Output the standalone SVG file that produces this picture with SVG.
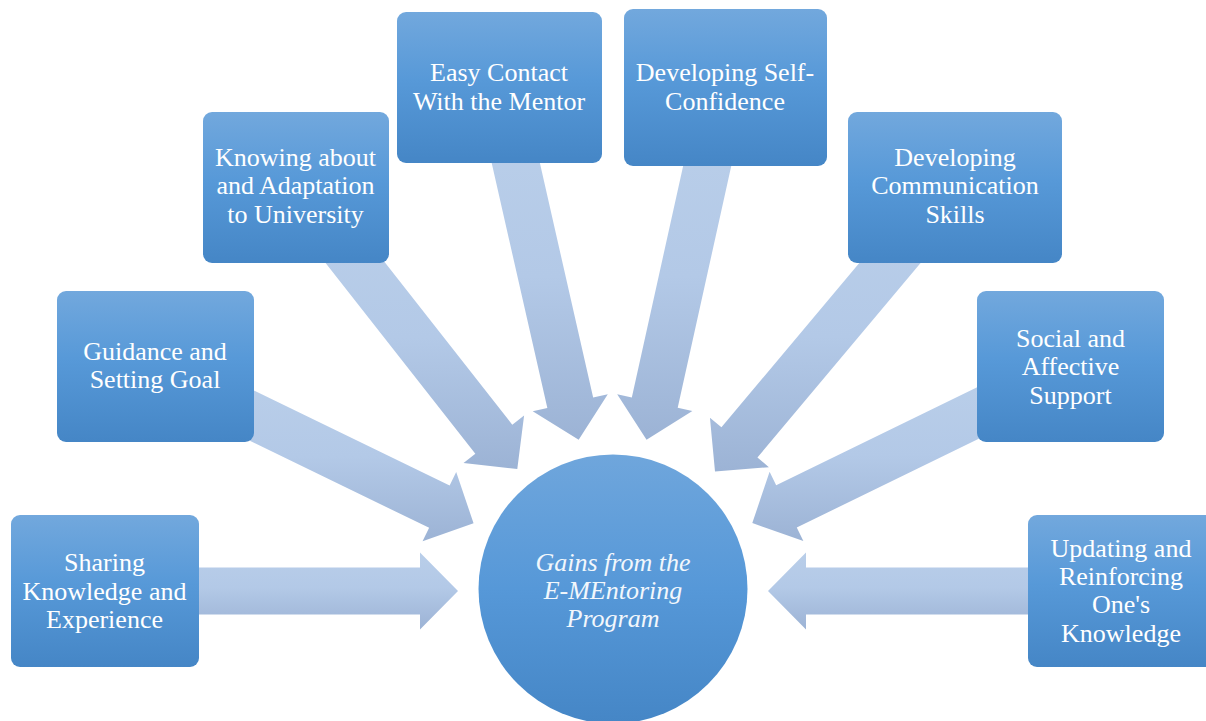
<svg xmlns="http://www.w3.org/2000/svg" width="1206" height="721" viewBox="0 0 1206 721">
<defs>
<linearGradient id="boxGrad" x1="0" y1="0" x2="0" y2="1">
<stop offset="0" stop-color="#72a8dd"/>
<stop offset="0.45" stop-color="#5799d8"/>
<stop offset="1" stop-color="#4586c6"/>
</linearGradient>
<linearGradient id="circGrad" x1="0" y1="0" x2="0" y2="1">
<stop offset="0" stop-color="#6fa6dc"/>
<stop offset="0.5" stop-color="#5698d8"/>
<stop offset="1" stop-color="#4586c6"/>
</linearGradient>
<linearGradient id="arrowGrad" x1="0" y1="0" x2="0" y2="1">
<stop offset="0" stop-color="#b9cee9"/>
<stop offset="0.45" stop-color="#b3c9e7"/>
<stop offset="1" stop-color="#9cb3d5"/>
</linearGradient>
<style>
.box{fill:url(#boxGrad);}
.arrow{fill:url(#arrowGrad);}
.lbl{font-family:"Liberation Serif","Times New Roman",serif;font-size:26px;fill:#ffffff;text-anchor:middle;}
.center{font-family:"Liberation Serif","Times New Roman",serif;font-style:italic;font-size:26px;fill:#f2f7fc;text-anchor:middle;}
</style>
</defs>
<rect width="1206" height="721" fill="#ffffff"/>

<g id="connectors">
<polygon class="arrow" points="190,567.5 420,567.5 420,552.5 458,591 420,629.5 420,614.5 190,614.5"/>
<polygon class="arrow" points="245.43,386.40 449.64,485.56 456.20,472.07 473.56,523.30 422.56,541.33 429.12,527.84 224.91,428.68"/>
<polygon class="arrow" points="359.78,230.43 512.30,424.70 524.10,415.44 517.29,469.09 463.54,462.98 475.34,453.72 322.82,259.45"/>
<polygon class="arrow" points="535.13,142.12 593.16,397.60 607.79,394.28 578.67,439.86 532.71,411.34 547.34,408.02 489.31,152.54"/>
<polygon class="arrow" points="734.40,151.87 677.71,407.66 692.36,410.90 646.54,439.67 617.18,394.24 631.83,397.48 688.52,141.69"/>
<polygon class="arrow" points="925.84,256.81 757.43,457.50 768.92,467.14 715,471.5 709.94,417.64 721.43,427.28 889.84,226.59"/>
<polygon class="arrow" points="1000.8,427.99 796.77,527.51 803.35,540.99 752.31,523.05 769.59,471.79 776.17,485.27 980.2,385.75"/>
<polygon class="arrow" points="1036,567.5 806,567.5 806,552.5 768,591 806,629.5 806,614.5 1036,614.5"/>
</g>

<g id="node-center">
<circle cx="613" cy="589" r="134.5" fill="url(#circGrad)"/>
<text class="center" x="613" y="570.5">Gains from the</text>
<text class="center" x="613" y="599">E-MEntoring</text>
<text class="center" x="613" y="627">Program</text>
</g>

<g id="node-sharing">
<rect class="box" x="11" y="515" width="188" height="152" rx="9"/>
<text class="lbl" x="104.5" y="571">Sharing</text>
<text class="lbl" x="104.5" y="599.5">Knowledge and</text>
<text class="lbl" x="104.5" y="628">Experience</text>
</g>

<g id="node-guidance">
<rect class="box" x="57" y="291" width="197" height="151" rx="9"/>
<text class="lbl" x="155" y="360">Guidance and</text>
<text class="lbl" x="155" y="388">Setting Goal</text>
</g>

<g id="node-knowing">
<rect class="box" x="203" y="112" width="186" height="151" rx="9"/>
<text class="lbl" x="295.5" y="166">Knowing about</text>
<text class="lbl" x="295.5" y="194.3">and Adaptation</text>
<text class="lbl" x="295.5" y="222.5">to University</text>
</g>

<g id="node-contact">
<rect class="box" x="397" y="12" width="205" height="151" rx="9"/>
<text class="lbl" x="499" y="81">Easy Contact</text>
<text class="lbl" x="499" y="110">With the Mentor</text>
</g>

<g id="node-confidence">
<rect class="box" x="624" y="9" width="203" height="157" rx="9"/>
<text class="lbl" x="725" y="81">Developing Self-</text>
<text class="lbl" x="725" y="110">Confidence</text>
</g>

<g id="node-communication">
<rect class="box" x="848" y="112" width="214" height="151" rx="9"/>
<text class="lbl" x="955" y="166">Developing</text>
<text class="lbl" x="955" y="194.3">Communication</text>
<text class="lbl" x="955" y="222.5">Skills</text>
</g>

<g id="node-social">
<rect class="box" x="977" y="291" width="187" height="151" rx="9"/>
<text class="lbl" x="1070.5" y="347">Social and</text>
<text class="lbl" x="1070.5" y="375.3">Affective</text>
<text class="lbl" x="1070.5" y="403.5">Support</text>
</g>

<g id="node-updating">
<rect class="box" x="1028" y="515" width="188" height="152" rx="9"/>
<text class="lbl" x="1121" y="557">Updating and</text>
<text class="lbl" x="1121" y="585.2">Reinforcing</text>
<text class="lbl" x="1121" y="613.4">One's</text>
<text class="lbl" x="1121" y="641.7">Knowledge</text>
</g>
</svg>
